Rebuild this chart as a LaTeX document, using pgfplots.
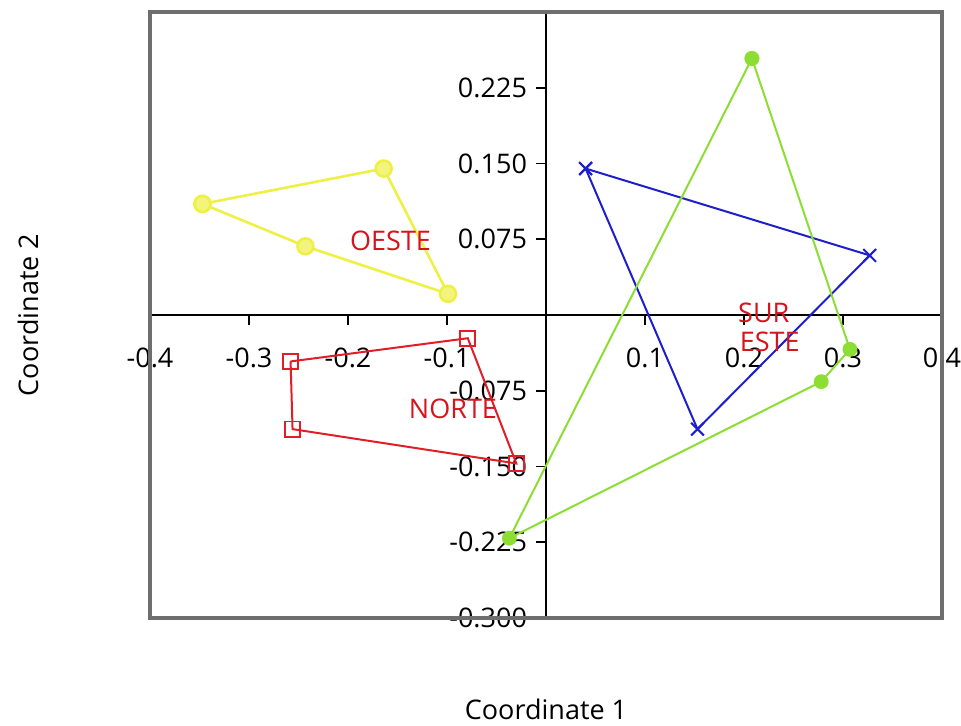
\documentclass[border=0pt]{standalone}
\usepackage{fontspec}
\setmainfont{Open Sans}
\usepackage{pgfplots}
\pgfplotsset{compat=1.18}
\definecolor{cyell}{RGB}{238,240,70}
\definecolor{cgreen}{RGB}{140,222,50}
\definecolor{cblue}{RGB}{30,30,205}
\definecolor{cred}{RGB}{225,30,40}
\definecolor{clab}{RGB}{215,20,30}
\definecolor{cframe}{RGB}{110,110,110}
\begin{document}
\begin{tikzpicture}[font=\fontsize{13.5}{16}\selectfont]
\begin{axis}[
  scale only axis,
  width=396pt, height=303pt,
  xmin=-0.4, xmax=0.4, ymin=-0.3, ymax=0.3,
  axis lines=middle,
  axis line style={-, black, line width=1pt},
  xtick={-0.4,-0.3,-0.2,-0.1,0.1,0.2,0.3,0.4},
  xticklabels={-0.4,-0.3,-0.2,-0.1,0.1,0.2,0.3,0.4},
  ytick={-0.3,-0.225,-0.15,-0.075,0.075,0.15,0.225},
  yticklabels={-0.300,-0.225,-0.150,-0.075,0.075,0.150,0.225},
  tick align=outside,
  major tick length=5pt,
  tick style={black, line width=0.8pt},
  xticklabel style={yshift=-8pt},
  yticklabel style={xshift=-1pt},
  /pgf/number format/assume math mode=true,
  xlabel={Coordinate 1}, ylabel={Coordinate 2},
  xlabel style={at={(axis description cs:0.5,0)}, anchor=north, yshift=-37pt},
  ylabel style={at={(axis description cs:0,0.5)}, anchor=center, rotate=90, yshift=61pt},
  clip=false,
]
\draw[cframe, line width=1.8pt] (rel axis cs:0,0) rectangle (rel axis cs:1,1);
\coordinate (SW) at (rel axis cs:0,0);
\coordinate (NE) at (rel axis cs:1,1);
% OESTE (yellow)
\addplot[cyell, line width=1.3pt, mark=*, mark size=4pt, mark options={fill=cyell!70!white, draw=cyell}]
  coordinates {(-0.347,0.110) (-0.164,0.145) (-0.099,0.021) (-0.243,0.068) (-0.347,0.110)};
% NORTE (red)
\addplot[cred, line width=1pt, mark=square, mark size=3.8pt, mark options={line width=0.9pt}]
  coordinates {(-0.258,-0.046) (-0.079,-0.023) (-0.030,-0.147) (-0.256,-0.113) (-0.258,-0.046)};
% ESTE (blue)
\addplot[cblue, line width=1pt, mark=x, mark size=4.5pt, mark options={line width=1pt}]
  coordinates {(0.040,0.145) (0.327,0.059) (0.153,-0.113) (0.040,0.145)};
% SUR (green)
\addplot[cgreen, line width=1pt, mark=*, mark size=3.2pt, mark options={fill=cgreen, draw=cgreen}]
  coordinates {(0.208,0.254) (0.307,-0.034) (0.278,-0.066) (-0.037,-0.221) (0.208,0.254)};
\node[clab] at (axis cs:-0.157,0.073) {OESTE};
\node[clab] at (axis cs:-0.094,-0.093) {NORTE};
\node[clab] at (axis cs:0.220,0.002) {SUR};
\node[clab] at (axis cs:0.226,-0.027) {ESTE};
\end{axis}
\pgfresetboundingbox
\path[use as bounding box] ([shift={(-75pt,-54pt)}]SW) rectangle ([shift={(9.5pt,6pt)}]NE);
\end{tikzpicture}
\end{document}
